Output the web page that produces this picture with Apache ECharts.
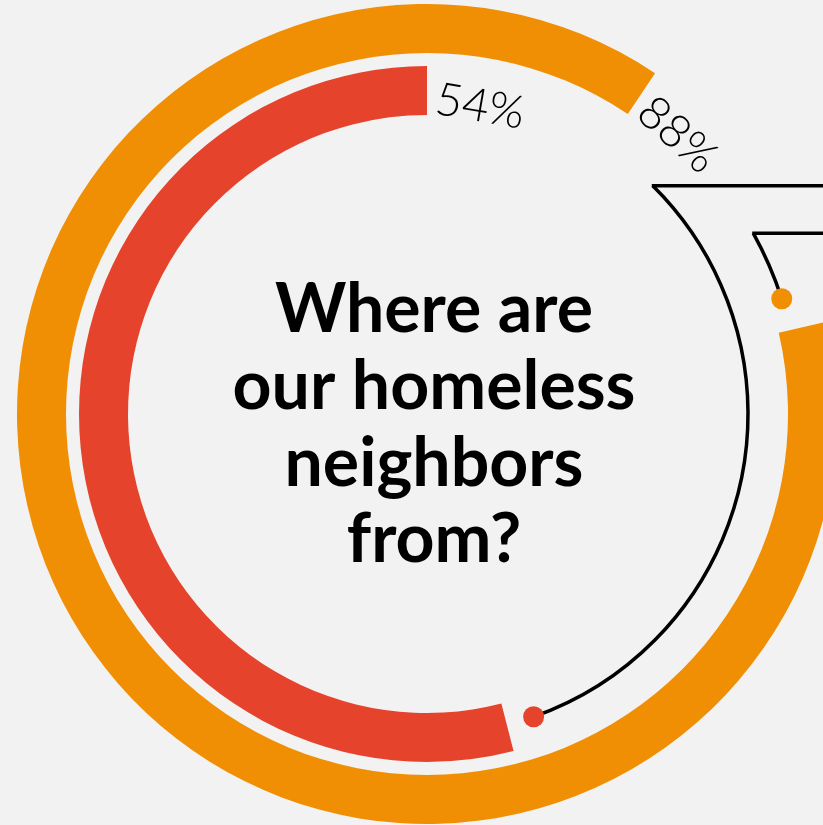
<!DOCTYPE html>
<html><head><meta charset="utf-8">
<script src="https://cdn.jsdelivr.net/npm/echarts@6/dist/echarts.min.js"></script>
<style>html,body{margin:0;padding:0;background:#f2f2f2;overflow:hidden;} #c{width:823px;height:825px;}</style>
</head><body><div id="c"></div>
<script>
// ---- data ----
const categories = ['Inner ring', 'Outer ring'];
const percentValues = [54, 88];
const percentLabels = ['54%', '88%'];
const titleLines = ['Where are', 'our homeless', 'neighbors', 'from?'];

// ---- style ----
const RED = '#E5432B';
const ORANGE = '#F18F04';
const BG = '#f2f2f2';
const CX = 427, CY = 414;
const RED_R = [299, 348];
const ORANGE_R = [361, 410];
const ORANGE_START = 77; // degrees clockwise from 12 o'clock

function pt(phi, r) {
  const a = phi * Math.PI / 180;
  return [CX + r * Math.sin(a), CY - r * Math.cos(a)];
}
function canvasAng(phi) { return (phi - 90) * Math.PI / 180; }

const redEnd = 360 - percentValues[0] * 3.6;           // clockwise from top
const orangeEnd = ORANGE_START + percentValues[1] * 3.6 - 360;

const chart = echarts.init(document.getElementById('c'), null, {renderer: 'canvas'});

const graphics = [];
// leader 1 (inner ring)
const l1Start = 44.7, l1End = redEnd - 5, l1R = 321;
const p1s = pt(l1Start, l1R), p1e = pt(l1End, l1R);
graphics.push({type: 'arc', shape: {cx: CX, cy: CY, r: l1R, startAngle: canvasAng(l1Start), endAngle: canvasAng(l1End), clockwise: true},
  style: {stroke: '#000', lineWidth: 3.5, fill: null}, z: 10});
graphics.push({type: 'line', shape: {x1: p1s[0] - 1, y1: p1s[1], x2: 840, y2: p1s[1]}, style: {stroke: '#000', lineWidth: 3.5}, z: 10});
graphics.push({type: 'circle', shape: {cx: p1e[0], cy: p1e[1], r: 10.5}, style: {fill: RED}, z: 11});
// leader 2 (outer ring)
const l2Start = 61, l2End = ORANGE_START - 5, l2R = 373;
const p2s = pt(l2Start, l2R), p2e = pt(l2End, l2R);
graphics.push({type: 'arc', shape: {cx: CX, cy: CY, r: l2R, startAngle: canvasAng(l2Start), endAngle: canvasAng(l2End), clockwise: true},
  style: {stroke: '#000', lineWidth: 3.5, fill: null}, z: 10});
graphics.push({type: 'line', shape: {x1: p2s[0] - 1, y1: p2s[1], x2: 840, y2: p2s[1]}, style: {stroke: '#000', lineWidth: 3.5}, z: 10});
graphics.push({type: 'circle', shape: {cx: p2e[0], cy: p2e[1], r: 10.5}, style: {fill: ORANGE}, z: 11});

// percent labels
const lab1Phi = 9.8, lab1R = 312;
const lab2Phi = orangeEnd + 8.1, lab2R = 375;
[[lab1Phi, lab1R, percentLabels[0]], [lab2Phi, lab2R, percentLabels[1]]].forEach(([phi, r, t]) => {
  const p = pt(phi, r);
  graphics.push({type: 'text', x: p[0], y: p[1], rotation: -phi * Math.PI / 180, z: 12,
    style: {text: t, fill: '#000', font: '300 46px Lato, "Open Sans", sans-serif', align: 'center', verticalAlign: 'middle'}});
});

// title
const titleY = [310, 387, 464, 540];
titleLines.forEach((t, i) => {
  graphics.push({type: 'text', x: 434, y: titleY[i], z: 12,
    style: {text: t, fill: '#000', font: 'bold 68px Lato, sans-serif', align: 'center', verticalAlign: 'middle'}});
});

const pieBase = {
  type: 'pie', center: [CX, CY], silent: true, animation: false,
  label: {show: false}, labelLine: {show: false}, emphasis: {disabled: true},
  itemStyle: {borderWidth: 0}, avoidLabelOverlap: false
};

chart.setOption({
  backgroundColor: BG,
  animation: false,
  series: [
    Object.assign({}, pieBase, {
      name: categories[0], radius: RED_R, startAngle: 90, clockwise: false,
      data: [{value: percentValues[0], itemStyle: {color: RED}}, {value: 100 - percentValues[0], itemStyle: {color: 'rgba(0,0,0,0)'}}]
    }),
    Object.assign({}, pieBase, {
      name: categories[1], radius: ORANGE_R, startAngle: 90 - ORANGE_START, clockwise: true,
      data: [{value: percentValues[1], itemStyle: {color: ORANGE}}, {value: 100 - percentValues[1], itemStyle: {color: 'rgba(0,0,0,0)'}}]
    })
  ],
  graphic: graphics
});
</script></body></html>
